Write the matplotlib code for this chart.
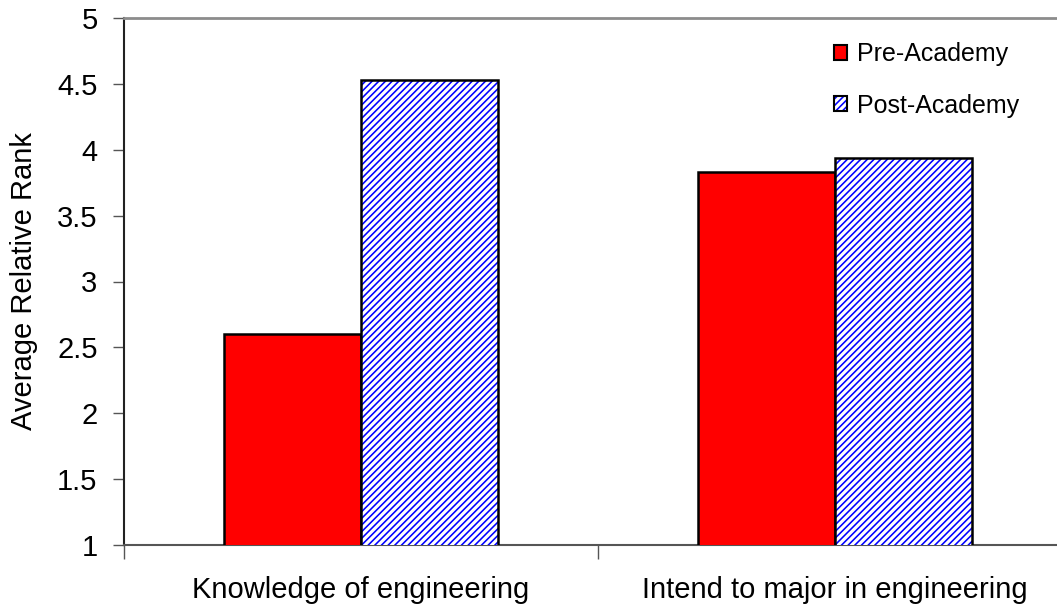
import numpy as np
import matplotlib.pyplot as plt
from matplotlib.patches import Patch

plt.rcParams['font.family'] = ['Liberation Sans', 'DejaVu Sans']
plt.rcParams['hatch.linewidth'] = 1.15

# Data
categories = ['Knowledge of engineering', 'Intend to major in engineering']
pre_academy = [2.6, 3.83]
post_academy = [4.53, 3.94]
series_names = ['Pre-Academy', 'Post-Academy']
y_ticks = [1, 1.5, 2, 2.5, 3, 3.5, 4, 4.5, 5]

fig = plt.figure(figsize=(10.57, 6.07), dpi=100)
ax = fig.add_axes([124/1057, 1 - 545/607, 948/1057, 527/607])

x = np.arange(len(categories))
w = 0.289

ax.bar(x - w/2, pre_academy, w, color='#ff0000', edgecolor='black', linewidth=1.8, zorder=3)
# hatched bars: hatch in blue, outline black drawn on top
ax.bar(x + w/2, post_academy, w, color='white', edgecolor='#0000ff', hatch='/////', linewidth=0, zorder=3)
ax.bar(x + w/2, post_academy, w, fill=False, edgecolor='black', linewidth=1.8, zorder=4)

ax.set_ylim(1, 5)
ax.set_xlim(-0.5, 1.5)
ax.set_yticks(y_ticks)
ax.set_yticklabels(['%g' % t for t in y_ticks], fontsize=21)
ax.tick_params(axis='y', direction='out', length=8, width=1, color='#555555', pad=11)

# category boundaries as major ticks, names as minor tick labels
ax.set_xticks([-0.5, 0.5, 1.5])
ax.set_xticklabels(['', '', ''])
ax.tick_params(axis='x', which='major', direction='out', length=10, width=1, color='#555555')
ax.set_xticks(x, minor=True)
ax.set_xticklabels(categories, minor=True, fontsize=21)
ax.tick_params(axis='x', which='minor', length=0, pad=22)

ax.set_ylabel('Average Relative Rank', fontsize=21, labelpad=14)

ax.spines['right'].set_visible(False)
ax.spines['top'].set_color('#8c8c8c')
ax.spines['top'].set_linewidth(2)
ax.spines['left'].set_color('#222222')
ax.spines['left'].set_linewidth(1.5)
ax.spines['bottom'].set_color('#555555')
ax.spines['bottom'].set_linewidth(1.5)

h_pre = Patch(facecolor='#ff0000', edgecolor='black', linewidth=1.5)
h_post = (Patch(facecolor='white', edgecolor='#0000ff', hatch='/////', linewidth=0),
          Patch(fill=False, edgecolor='black', linewidth=1.5))
ax.legend([h_pre, h_post], series_names, loc='upper left', bbox_to_anchor=(821/1057, 1 - 30/607),
          bbox_transform=fig.transFigure, frameon=False, fontsize=18,
          handlelength=0.55, handleheight=0.55, handletextpad=0.4, labelspacing=1.08, borderpad=0)

fig.savefig('out.png', dpi=100)
